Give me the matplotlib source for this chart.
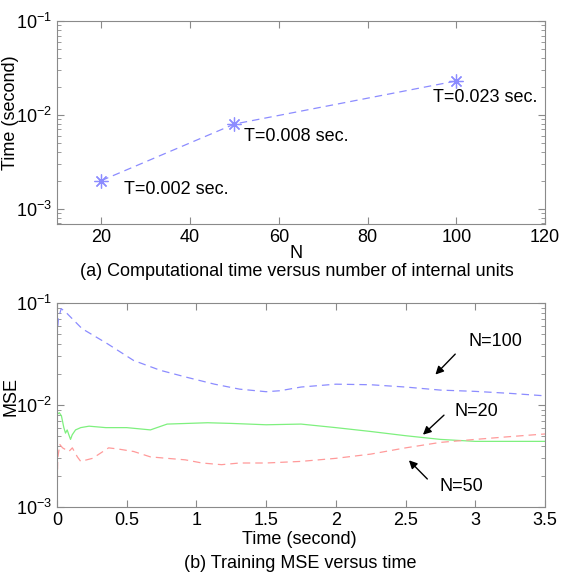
import numpy as np
import matplotlib
matplotlib.use("Agg")
import matplotlib.pyplot as plt
from matplotlib.ticker import LogLocator, NullFormatter

plt.rcParams['font.family'] = ['Liberation Sans', 'DejaVu Sans']
plt.rcParams['mathtext.fontset'] = 'custom'
plt.rcParams['mathtext.rm'] = 'Liberation Sans'
plt.rcParams['mathtext.it'] = 'Liberation Sans'
plt.rcParams['font.size'] = 13

# (a) computation time vs number of internal units
n_units = [20, 50, 100]
comp_time = [0.002, 0.008, 0.023]
time_labels = ['T=0.002 sec.', 'T=0.008 sec.', 'T=0.023 sec.']

# (b) training MSE vs time
t100 = [0, 0.01, 0.03, 0.06, 0.18, 0.36, 0.55, 0.74, 0.93, 1.13, 1.31, 1.5, 1.6,
        1.75, 2.0, 2.25, 2.5, 2.75, 3.0, 3.25, 3.5]
mse100 = [0.045, 0.07, 0.088, 0.082, 0.056, 0.040, 0.0273, 0.0219, 0.0187, 0.016,
          0.0143, 0.0135, 0.0138, 0.015, 0.016, 0.0158, 0.015, 0.014, 0.0136, 0.013, 0.0123]

t20 = [0, 0.0, 0.017, 0.032, 0.049, 0.061, 0.073, 0.085, 0.097, 0.109, 0.133, 0.17,
       0.23, 0.35, 0.5, 0.67, 0.79, 1.08, 1.25, 1.5, 1.75, 2.0, 2.25, 2.5, 2.75,
       3.0, 3.5]
mse20 = [0.04, 0.0081, 0.0084, 0.0078, 0.0060, 0.0053, 0.0057, 0.0051, 0.0046, 0.0051,
         0.0057, 0.0060, 0.0062, 0.0060, 0.0060, 0.0057, 0.0065, 0.0067, 0.0066, 0.0064,
         0.0065, 0.0060, 0.0055, 0.0050, 0.0046, 0.0044, 0.0044]

t50 = [0, 0.005, 0.02, 0.04, 0.085, 0.11, 0.146, 0.17, 0.255, 0.37, 0.44, 0.55, 0.67,
       0.79, 0.92, 1.04, 1.18, 1.31, 1.5, 1.75, 2.0, 2.25, 2.5, 2.75, 3.0, 3.25, 3.5]
mse50 = [0.001, 0.0030, 0.0041, 0.0038, 0.0035, 0.0038, 0.0031, 0.0028, 0.0030, 0.0038,
         0.0037, 0.0035, 0.0031, 0.0030, 0.0029, 0.0027, 0.0026, 0.0027, 0.0027, 0.0028,
         0.0030, 0.0033, 0.0038, 0.0043, 0.0046, 0.0049, 0.0052]

blue = '#8c8cff'
green = '#7ef07e'
red = '#ff9a9a'
spine_col = '#8a8a8a'


def matlab_axes(ax):
    for s in ax.spines.values():
        s.set_color(spine_col)
        s.set_linewidth(0.8)
    ax.tick_params(which='both', direction='in', top=True, right=True,
                   color=spine_col, labelsize=13)
    ax.tick_params(which='major', length=5)
    ax.tick_params(which='minor', length=3)
    ax.yaxis.set_minor_locator(LogLocator(base=10, subs=np.arange(2, 10)))
    ax.yaxis.set_minor_formatter(NullFormatter())


fig = plt.figure(figsize=(5.61, 5.75), dpi=100)
W, H = 561, 575

ax1 = fig.add_axes([57 / W, 1 - 224 / H, 488 / W, 203 / H])
ax1.set_yscale('log')
ax1.plot(n_units, comp_time, '--', color=blue, lw=0.9, dashes=(6, 4))
ax1.plot(n_units, comp_time, marker=(8, 2, 0), ls='none', color=blue, ms=10, mew=0.9)
ax1.set_xlim(10, 120)
ax1.set_ylim(6.9e-4, 1e-1)
ax1.set_xticks([20, 40, 60, 80, 100, 120])
ax1.set_yticks([1e-3, 1e-2, 1e-1])
matlab_axes(ax1)
label_pos = [(25.2, 0.0016), (52.1, 0.0059), (94.7, 0.0154)]
for (x, y), s in zip(label_pos, time_labels):
    ax1.text(x, y, s, ha='left', va='center', fontsize=13)

ax2 = fig.add_axes([57 / W, 1 - 507 / H, 488 / W, 204 / H])
ax2.set_yscale('log')
ax2.plot(t100, mse100, '--', color=blue, lw=0.9, dashes=(6, 4))
ax2.plot(t20, mse20, '-', color=green, lw=0.9)
ax2.plot(t50, mse50, '--', color=red, lw=0.9, dashes=(6, 4))
ax2.set_xlim(0, 3.5)
ax2.set_ylim(1e-3, 1e-1)
ax2.set_xticks([0, 0.5, 1, 1.5, 2, 2.5, 3, 3.5])
ax2.set_xticklabels(['0', '0.5', '1', '1.5', '2', '2.5', '3', '3.5'])
ax2.set_yticks([1e-3, 1e-2, 1e-1])
matlab_axes(ax2)

arrow = dict(arrowstyle='-|>', color='black', lw=1.0, mutation_scale=12)
ax2.annotate('', xy=(2.70, 0.019), xytext=(2.87, 0.033), arrowprops=arrow)
ax2.text(2.95, 0.0415, 'N=100', ha='left', va='center', fontsize=13)
ax2.annotate('', xy=(2.61, 0.0049), xytext=(2.79, 0.0083), arrowprops=arrow)
ax2.text(2.85, 0.0087, 'N=20', ha='left', va='center', fontsize=13)
ax2.annotate('', xy=(2.51, 0.0030), xytext=(2.67, 0.0018), arrowprops=arrow)
ax2.text(2.74, 0.0016, 'N=50', ha='left', va='center', fontsize=13)

fig.text(11 / W, 1 - 113 / H, 'Time (second)', rotation=90, ha='center', va='center', fontsize=13)
fig.text(296 / W, 1 - 254 / H, 'N', ha='center', va='center', fontsize=13)
fig.text(297 / W, 1 - 271 / H, '(a) Computational time versus number of internal units',
         ha='center', va='center', fontsize=13)
fig.text(11 / W, 1 - 397 / H, 'MSE', rotation=90, ha='center', va='center', fontsize=13)
fig.text(299 / W, 1 - 539 / H, 'Time (second)', ha='center', va='center', fontsize=13)
fig.text(300 / W, 1 - 563 / H, '(b) Training MSE versus time', ha='center', va='center', fontsize=13)

fig.savefig('out.png', dpi=100)
